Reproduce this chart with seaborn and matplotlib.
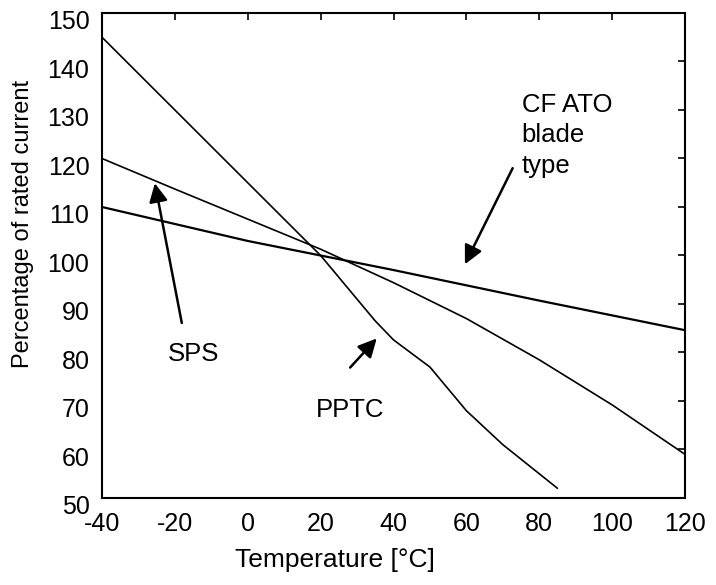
import matplotlib
matplotlib.use("Agg")
import matplotlib.pyplot as plt
import matplotlib.transforms as mtransforms
import seaborn as sns
import pandas as pd

# Data
cf_x = [-40, 0, 40, 80, 120]
cf_y = [110, 103, 97, 90.7, 84.6]

sps_x = [-40, -20, 0, 20, 40, 60, 80, 100, 120]
sps_y = [120, 113.7, 107.5, 101.3, 94.4, 87, 78.5, 69.2, 59]

pptc_x = [-40, 0, 20, 35, 40, 50, 60, 70, 85]
pptc_y = [145, 115, 100, 86.5, 82.6, 77, 68, 61, 52]

x_ticks = [-40, -20, 0, 20, 40, 60, 80, 100, 120]
y_ticks = [50, 60, 70, 80, 90, 100, 110, 120, 130, 140, 150]

df = pd.concat([
    pd.DataFrame({"T": cf_x, "P": cf_y, "s": "CF ATO blade type"}),
    pd.DataFrame({"T": sps_x, "P": sps_y, "s": "SPS"}),
    pd.DataFrame({"T": pptc_x, "P": pptc_y, "s": "PPTC"}),
])

sns.set_theme(style="white")
plt.rcParams["font.family"] = ["Liberation Sans", "DejaVu Sans"]
plt.rcParams["axes.unicode_minus"] = False

fig = plt.figure(figsize=(7.16, 5.85), dpi=100)
ax = fig.add_axes([102/716, 1-498/585, 583/716, 485/585])

sns.lineplot(data=df, x="T", y="P", hue="s", sort=False, estimator=None,
             palette={"CF ATO blade type": "black", "SPS": "black", "PPTC": "black"},
             legend=False, ax=ax, linewidth=1.2)
ax.lines[0].set_linewidth(1.6)

ax.set_xlim(-40, 120)
ax.set_ylim(50, 150)
ax.set_xticks(x_ticks)
ax.set_yticks(y_ticks)
ax.tick_params(direction="in", length=5, width=1.2, top=True, right=True,
               labelsize=18, colors="black")
ax.tick_params(axis="x", pad=10)
ax.tick_params(axis="y", pad=9)
for sp in ax.spines.values():
    sp.set_color("black")
    sp.set_linewidth(1.5)

# y tick labels sit slightly below their ticks in the reference
shift = mtransforms.ScaledTranslation(0, -5/72, fig.dpi_scale_trans)
for lab in ax.get_yticklabels():
    lab.set_transform(lab.get_transform() + shift)

ax.set_xlabel("Temperature [°C]", fontsize=19, color="black")
ax.set_ylabel("Percentage of rated current", fontsize=17, color="black")
ax.xaxis.set_label_coords((335-102)/583, -62/485)
ax.xaxis.label.set_va("center")
ax.yaxis.set_label_coords((23-102)/583, (498-224)/485)
ax.yaxis.label.set_va("center")

arrow = dict(arrowstyle="-|>", mutation_scale=28, lw=1.8, color="black",
             shrinkA=0, shrinkB=0)
ax.annotate("", xy=(59.6, 98.2), xytext=(72.7, 118.0), arrowprops=arrow)
ax.annotate("", xy=(-25.5, 114.9), xytext=(-18.1, 86.1), arrowprops=arrow)
ax.annotate("", xy=(35.4, 82.9), xytext=(28.1, 76.9), arrowprops=arrow)

ax.text(75.2, 133.6, "CF ATO\nblade\ntype", fontsize=18.5, ha="left", va="top",
        linespacing=1.35, color="black")
ax.text(-15, 79.6, "SPS", fontsize=18.5, ha="center", va="center", color="black")
ax.text(28.1, 68.2, "PPTC", fontsize=18.5, ha="center", va="center", color="black")

fig.savefig("out.png", dpi=100)
